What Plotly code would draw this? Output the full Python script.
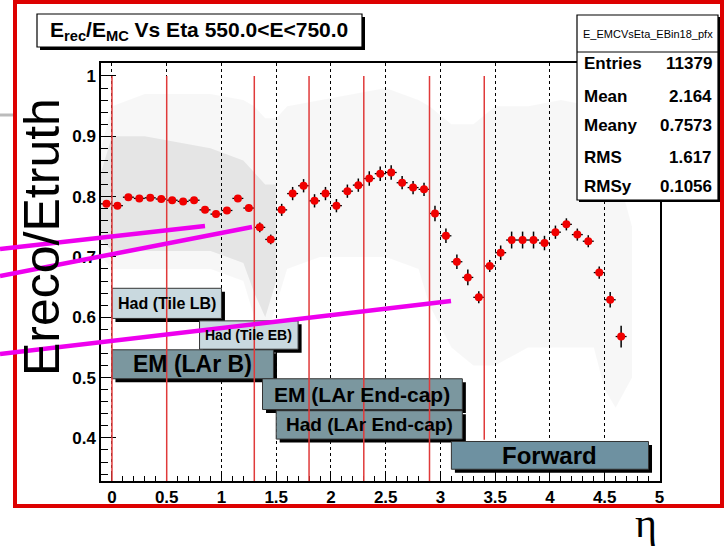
import plotly.graph_objects as go

# ---- profile of E_rec/E_MC versus eta (550 < E < 750 GeV) ----
eta_centers = [-0.05, 0.05, 0.15, 0.25, 0.35, 0.45, 0.55, 0.65, 0.75, 0.85,
               0.95, 1.05, 1.15, 1.25, 1.35, 1.45, 1.55, 1.65, 1.75, 1.85,
               1.95, 2.05, 2.15, 2.25, 2.35, 2.45, 2.55, 2.65, 2.75, 2.85,
               2.95, 3.05, 3.15, 3.25, 3.35, 3.45, 3.55, 3.65, 3.75, 3.85,
               3.95, 4.05, 4.15, 4.25, 4.35, 4.45, 4.55, 4.65]
response = [0.788, 0.785, 0.799, 0.797, 0.798, 0.796, 0.794, 0.792, 0.794, 0.778,
            0.771, 0.777, 0.797, 0.781, 0.749, 0.729, 0.778, 0.805, 0.818, 0.793,
            0.805, 0.785, 0.809, 0.819, 0.830, 0.838, 0.840, 0.823, 0.815, 0.812,
            0.772, 0.735, 0.692, 0.666, 0.633, 0.685, 0.707, 0.728, 0.728, 0.728,
            0.723, 0.741, 0.754, 0.737, 0.726, 0.674, 0.629, 0.568]
response_err = [0.005, 0.005, 0.005, 0.005, 0.005, 0.005, 0.005, 0.005, 0.005, 0.005,
                0.005, 0.005, 0.005, 0.006, 0.008, 0.008, 0.010, 0.011, 0.011, 0.011,
                0.011, 0.011, 0.011, 0.011, 0.012, 0.012, 0.012, 0.011, 0.011, 0.011,
                0.013, 0.012, 0.012, 0.013, 0.010, 0.010, 0.012, 0.014, 0.014, 0.014,
                0.012, 0.011, 0.010, 0.010, 0.010, 0.010, 0.013, 0.018]
bin_half_width = 0.05

# ---- spread of the individual entries (outer extent and dense core) ----
cloud_eta = [-0.1, 0.0, 0.3, 0.6, 0.9, 1.2, 1.3, 1.4, 1.5, 1.6, 1.9, 2.2, 2.5,
             2.8, 2.9, 3.1, 3.3, 3.5, 3.8, 4.1, 4.4, 4.5, 4.6, 4.75]
cloud_lo = [0.70, 0.68, 0.68, 0.68, 0.68, 0.66, 0.60, 0.56, 0.62, 0.68, 0.70, 0.70, 0.70,
            0.68, 0.62, 0.55, 0.52, 0.52, 0.55, 0.55, 0.55, 0.48, 0.45, 0.50]
cloud_hi = [0.88, 0.95, 0.97, 0.97, 0.97, 0.96, 0.95, 0.93, 0.93, 0.95, 0.96, 0.97, 0.98,
            0.96, 0.95, 0.92, 0.92, 0.95, 0.95, 0.96, 0.95, 0.92, 0.85, 0.75]
core_eta = [-0.1, 0.0, 0.3, 0.6, 0.9, 1.2, 1.3, 1.4, 1.5]
core_lo = [0.73, 0.71, 0.71, 0.71, 0.71, 0.69, 0.64, 0.60, 0.66]
core_hi = [0.84, 0.90, 0.90, 0.89, 0.88, 0.86, 0.84, 0.82, 0.82]

# ---- detector regions ----
region_labels = ["Had (Tile LB)", "Had (Tile EB)", "EM (LAr B)",
                 "EM (LAr End-cap)", "Had (LAr End-cap)", "Forward"]
region_eta_min = [0.0, 0.8, 0.0, 1.375, 1.5, 3.1]
region_eta_max = [1.0, 1.7, 1.475, 3.2, 3.2, 4.9]
region_y_lo = [0.598, 0.547, 0.498, 0.447, 0.398, 0.348]
region_y_hi = [0.648, 0.594, 0.546, 0.498, 0.445, 0.394]
region_fill = ["#c9d9df", "#c9d9df", "#7b979f", "#7b979f", "#7b979f", "#6e91a1"]
region_font = [16, 14, 23, 21, 19, 24]

# ---- calorimeter boundaries ----
boundary_eta = [0.0, 0.5, 1.3, 1.8, 2.3, 2.9, 3.4]
boundary_bottom = [0.3285, 0.3285, 0.3285, 0.3285, 0.3285, 0.3285, 0.397]

# ---- statistics box ----
stat_names = ["Entries", "Mean", "Meany", "RMS", "RMSy"]
stat_values = ["11379", "2.164", "0.7573", "1.617", "0.1056"]

W, H = 725, 551
L, R, T, B = 101, 660, 63, 481
X_RANGE = [-0.1, 5.005]
Y_RANGE = [0.3285, 1.0215]
FONT = "Liberation Sans, Arial"


def px(x):
    return (x - L) / (R - L)


def py(y):
    return (B - y) / (B - T)


def label(x, y, text, size, xanchor="center", family=FONT, ref="paper", angle=0):
    return dict(x=x, y=y, xref=ref, yref=ref, text=text, showarrow=False,
                xanchor=xanchor, yanchor="middle", textangle=angle,
                font=dict(family=family, size=size, color="black"))


fig = go.Figure()

fig.add_trace(go.Scatter(
    x=cloud_eta + cloud_eta[::-1], y=cloud_hi + cloud_lo[::-1],
    fill="toself", fillcolor="rgba(0,0,0,0.03)", line=dict(width=0),
    mode="lines", hoverinfo="skip", showlegend=False))
fig.add_trace(go.Scatter(
    x=core_eta + core_eta[::-1], y=core_hi + core_lo[::-1],
    fill="toself", fillcolor="rgba(0,0,0,0.07)", line=dict(width=0),
    mode="lines", hoverinfo="skip", showlegend=False))

fig.add_trace(go.Scatter(
    x=eta_centers, y=response, mode="markers",
    marker=dict(symbol="circle", size=8, color="#f00000"),
    error_y=dict(type="data", array=response_err, color="black", thickness=1.5, width=0),
    error_x=dict(type="constant", value=bin_half_width, color="black", thickness=1.3, width=0),
    showlegend=False))

shapes = []
ann = []

# region boxes with drop shadow
dx, dy = 0.032, 0.0058
for lab, e0, e1, y0, y1, fc, fs in zip(region_labels, region_eta_min, region_eta_max,
                                       region_y_lo, region_y_hi, region_fill, region_font):
    shapes.append(dict(type="rect", xref="x", yref="y", x0=e0 + dx, x1=e1 + dx,
                       y0=y0 - dy, y1=y1 - dy, fillcolor="black",
                       line=dict(width=0), layer="above"))
    shapes.append(dict(type="rect", xref="x", yref="y", x0=e0, x1=e1, y0=y0, y1=y1,
                       fillcolor=fc, line=dict(color="#333333", width=1), layer="above"))
    ann.append(label((e0 + e1) / 2, (y0 + y1) / 2, "<b>%s</b>" % lab, fs, ref="x"))
    ann[-1]["yref"] = "y"

# boundary lines
for e, yb in zip(boundary_eta, boundary_bottom):
    shapes.append(dict(type="line", xref="x", yref="y", x0=e, x1=e, y0=yb, y1=1.0,
                       line=dict(color="#e03a3a", width=1.5), layer="above"))

# title box
shapes.append(dict(type="rect", xref="paper", yref="paper",
                   x0=px(40), x1=px(365), y0=py(50), y1=py(17),
                   fillcolor="black", line=dict(width=0)))
shapes.append(dict(type="rect", xref="paper", yref="paper",
                   x0=px(37), x1=px(362), y0=py(47), y1=py(14),
                   fillcolor="white", line=dict(color="black", width=1.2)))
ann.append(label(px(199), py(31),
                 "<b>E<sub>rec</sub>/E<sub>MC</sub> Vs Eta 550.0&lt;E&lt;750.0</b>", 21))

# statistics box
shapes.append(dict(type="rect", xref="paper", yref="paper",
                   x0=px(579), x1=px(720), y0=py(202), y1=py(17),
                   fillcolor="black", line=dict(width=0)))
shapes.append(dict(type="rect", xref="paper", yref="paper",
                   x0=px(577), x1=px(718), y0=py(200), y1=py(15),
                   fillcolor="white", line=dict(color="black", width=1.2)))
shapes.append(dict(type="line", xref="paper", yref="paper",
                   x0=px(577), x1=px(718), y0=py(52), y1=py(52),
                   line=dict(color="black", width=1)))
ann.append(label(px(647.5), py(34), "E_EMCVsEta_EBin18_pfx", 11))
row_y = [63, 96, 126, 157, 186]
for name, val, yy in zip(stat_names, stat_values, row_y):
    ann.append(label(px(582), py(yy), "<b>%s</b>" % name, 17, xanchor="left"))
    ann.append(label(px(714), py(yy), "<b>%s</b>" % val, 17, xanchor="right"))

# outer red frame and small grey rule
shapes.append(dict(type="rect", xref="paper", yref="paper",
                   x0=px(15), x1=px(722), y0=py(506), y1=py(2),
                   line=dict(color="#dd0000", width=4), fillcolor="rgba(0,0,0,0)"))
shapes.append(dict(type="line", xref="paper", yref="paper",
                   x0=px(0), x1=px(13), y0=py(115), y1=py(115),
                   line=dict(color="#bbbbbb", width=3)))

# magenta pointer lines
for (x0, y0, x1, y1) in [(0, 249, 205, 226), (0, 276, 252, 227), (0, 354, 451, 301)]:
    shapes.append(dict(type="line", xref="paper", yref="paper",
                       x0=px(x0), x1=px(x1), y0=py(y0), y1=py(y1),
                       line=dict(color="#ee00ee", width=4.5)))

# axis titles
ann.append(label(px(42), py(237), "Ereco/Etruth", 50, angle=-90))
ann.append(label(px(646), py(523), "η", 42, family="Liberation Serif, Times New Roman"))

tick_font = dict(family=FONT, size=17, color="black")
fig.update_layout(
    width=W, height=H, autosize=False,
    margin=dict(l=L, r=W - R, t=T, b=H - B, pad=0),
    paper_bgcolor="white", plot_bgcolor="white",
    shapes=shapes, annotations=ann, showlegend=False,
    xaxis=dict(range=X_RANGE, tick0=0, dtick=0.5, ticks="inside", ticklen=9,
               tickcolor="black", tickwidth=1, showline=True, linecolor="black",
               linewidth=1.5, mirror=True, zeroline=False,
               showgrid=True, gridcolor="black", griddash="dot", gridwidth=1,
               tickfont=tick_font, tickprefix="<b>", ticksuffix="</b>",
               minor=dict(dtick=0.1, ticks="inside", ticklen=5, tickcolor="black",
                          showgrid=False)),
    yaxis=dict(range=Y_RANGE, tick0=0, dtick=0.1, ticks="inside", ticklen=15,
               tickcolor="black", tickwidth=1, showline=True, linecolor="black",
               linewidth=1.5, mirror=True, zeroline=False, showgrid=False,
               tickfont=tick_font, tickprefix="<b>", ticksuffix="</b>",
               minor=dict(dtick=0.02, ticks="inside", ticklen=7, tickcolor="black")),
)

fig.write_html("out.html")
